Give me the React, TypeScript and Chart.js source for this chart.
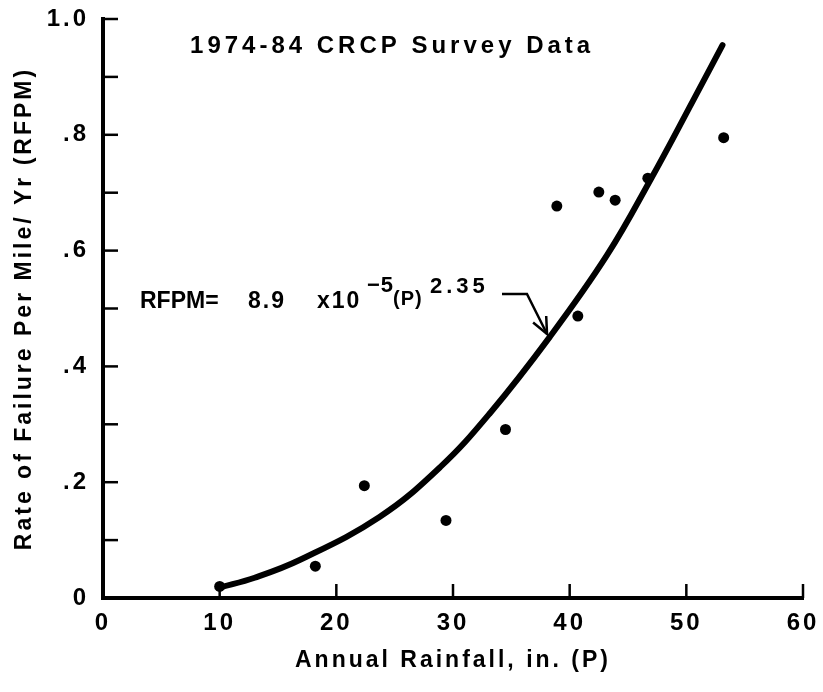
import React, { useEffect, useRef } from "react";
import { Chart, registerables } from "chart.js";

Chart.register(...registerables);

// Survey data points (annual rainfall, in. vs. failures per mile per year)
const rainfall = [10, 18.2, 22.4, 29.4, 34.5, 38.9, 40.7, 42.5, 43.9, 46.7, 53.2];
const failureRate = [0.02, 0.055, 0.194, 0.134, 0.291, 0.677, 0.487, 0.701, 0.687, 0.725, 0.795];

// Fitted curve
const curveRainfall = [10, 13.0, 16.9, 23.7, 28.9, 33.2, 38.3, 43.2, 47.0, 50.6, 53.1];
const curveRate = [0.018, 0.035, 0.066, 0.14, 0.226, 0.32, 0.451, 0.592, 0.725, 0.86, 0.955];

const xTickValues = [0, 10, 20, 30, 40, 50, 60];
const yLabelFor = (v: number): string => {
  const tenths = Math.round(v * 10);
  if (tenths % 2 !== 0) return "";
  if (tenths === 0) return "0";
  if (tenths === 10) return "1.0";
  return "." + tenths;
};

const titleText = "1974-84 CRCP Survey Data";
const xTitle = "Annual Rainfall, in. (P)";
const yTitle = "Rate of Failure Per Mile/ Yr (RFPM)";

const FONT = "'Liberation Sans', Arial, Helvetica, sans-serif";

const decorPlugin = {
  id: "decor",
  beforeDraw(chart: any) {
    (chart.ctx as any).letterSpacing = "3px";
  },
  afterDraw(chart: any) {
    const { ctx, chartArea, scales } = chart;
    const xs = scales.x;
    const ys = scales.y;
    const X = (v: number) => xs.getPixelForValue(v);
    const Y = (v: number) => ys.getPixelForValue(v);
    ctx.save();
    ctx.strokeStyle = "#000";
    ctx.fillStyle = "#000";
    ctx.lineWidth = 2.5;
    ctx.lineCap = "butt";
    // inward tick marks
    ys.ticks.forEach((t: any) => {
      if (t.value <= 0) return;
      const py = Y(t.value);
      ctx.beginPath();
      ctx.moveTo(chartArea.left, py);
      ctx.lineTo(chartArea.left + 15, py);
      ctx.stroke();
    });
    xs.ticks.forEach((t: any) => {
      if (t.value <= 0) return;
      const px = X(t.value);
      ctx.beginPath();
      ctx.moveTo(px, chartArea.bottom);
      ctx.lineTo(px, chartArea.bottom - 14);
      ctx.stroke();
    });

    // inset title
    ctx.textAlign = "left";
    ctx.textBaseline = "alphabetic";
    ctx.font = `bold 24px ${FONT}`;
    ctx.letterSpacing = "4px";
    ctx.fillText(titleText, X(7.46), Y(0.941));

    // equation
    const pieces = [
      { t: "RFPM=", x: 3.17, y: 0.501, size: 23, ls: 0 },
      { t: "8.9", x: 12.43, y: 0.501, size: 23, ls: 2 },
      { t: "x10", x: 18.34, y: 0.501, size: 23, ls: 2 },
      { t: "\u22125", x: 22.63, y: 0.528, size: 22, ls: 1 },
      { t: "(P)", x: 24.86, y: 0.506, size: 20, ls: 1 },
      { t: "2.35", x: 28.03, y: 0.527, size: 22, ls: 4 },
    ];
    pieces.forEach((p) => {
      ctx.font = `bold ${p.size}px ${FONT}`;
      ctx.letterSpacing = `${p.ls}px`;
      ctx.fillText(p.t, X(p.x), Y(p.y));
    });

    // leader arrow
    const a = { x: X(34.2), y: Y(0.525) };
    const b = { x: X(36.34), y: Y(0.525) };
    const tip = { x: X(38.06), y: Y(0.456) };
    ctx.lineWidth = 2.5;
    ctx.lineJoin = "miter";
    ctx.beginPath();
    ctx.moveTo(a.x, a.y);
    ctx.lineTo(b.x, b.y);
    ctx.lineTo(tip.x, tip.y);
    ctx.stroke();
    const ang = Math.atan2(tip.y - b.y, tip.x - b.x);
    const len = 18;
    const spread = (24 * Math.PI) / 180;
    ctx.beginPath();
    ctx.moveTo(tip.x - len * Math.cos(ang - spread), tip.y - len * Math.sin(ang - spread));
    ctx.lineTo(tip.x, tip.y);
    ctx.lineTo(tip.x - len * Math.cos(ang + spread), tip.y - len * Math.sin(ang + spread));
    ctx.stroke();
    ctx.restore();
  },
};

export default function App() {
  const canvasRef = useRef<HTMLCanvasElement | null>(null);

  useEffect(() => {
    document.body.style.margin = "0";
    const canvas = canvasRef.current;
    if (!canvas) return;
    Chart.defaults.font.family = FONT;
    Chart.defaults.color = "#000";

    const points = rainfall.map((x, i) => ({ x, y: failureRate[i] }));
    const curve = curveRainfall.map((x, i) => ({ x, y: curveRate[i] }));

    const chart = new Chart(canvas, {
      type: "scatter",
      data: {
        datasets: [
          {
            type: "line",
            label: "RFPM fit",
            data: curve,
            showLine: true,
            borderColor: "#000",
            borderWidth: 6,
            borderCapStyle: "round",
            pointRadius: 0,
            tension: 0.4,
            fill: false,
          } as any,
          {
            label: "1974-84 CRCP Survey Data",
            data: points,
            backgroundColor: "#000",
            borderColor: "#000",
            borderWidth: 0,
            pointRadius: 5.5,
            pointStyle: "circle",
          },
        ],
      },
      options: {
        animation: false,
        responsive: true,
        maintainAspectRatio: false,
        events: [],
        layout: { padding: { left: 0, top: 19, right: 20, bottom: 0 } },
        plugins: {
          legend: { display: false },
          tooltip: { enabled: false },
        },
        scales: {
          x: {
            type: "linear",
            min: 0,
            max: 60,
            afterBuildTicks: (s: any) => {
              s.ticks = xTickValues.map((v) => ({ value: v }));
            },
            ticks: {
              padding: 11,
              color: "#000",
              autoSkip: false,
              maxRotation: 0,
              font: { size: 24, weight: "bold" },
              callback: (v: any) => String(v),
            },
            grid: { display: true, drawOnChartArea: false, drawTicks: false },
            border: { display: true, width: 4, color: "#000" },
            title: {
              display: true,
              text: xTitle,
              color: "#000",
              font: { size: 23, weight: "bold" },
              padding: { top: 0, bottom: 18 },
            },
            afterFit: (s: any) => {
              s.height = 94;
              s.paddingLeft = 0;
              s.paddingRight = 0;
            },
          },
          y: {
            type: "linear",
            min: 0,
            max: 1,
            ticks: {
              stepSize: 0.1,
              padding: 14,
              color: "#000",
              autoSkip: false,
              font: { size: 24, weight: "bold" },
              callback: (v: any) => yLabelFor(Number(v)),
            },
            grid: { display: true, drawOnChartArea: false, drawTicks: false },
            border: { display: true, width: 4, color: "#000" },
            title: {
              display: true,
              text: yTitle,
              color: "#000",
              font: { size: 23, weight: "bold" },
              padding: { top: 11, bottom: 0 },
            },
            afterFit: (s: any) => {
              s.width = 103;
              s.paddingTop = 0;
              s.paddingBottom = 0;
            },
          },
        },
      } as any,
      plugins: [decorPlugin as any],
    });

    return () => chart.destroy();
  }, []);

  return (
    <div style={{ position: "fixed", left: 0, top: 0, width: 823, height: 692, background: "#fff" }}>
      <canvas ref={canvasRef} />
    </div>
  );
}
